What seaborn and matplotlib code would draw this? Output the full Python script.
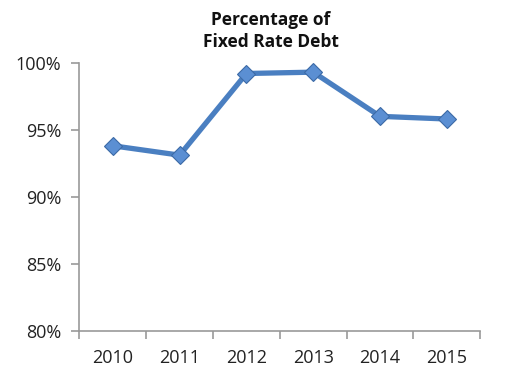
import pandas as pd
import seaborn as sns
import matplotlib.pyplot as plt
from matplotlib.ticker import FixedLocator

years = ['2010', '2011', '2012', '2013', '2014', '2015']
fixed_pct = [93.8, 93.1, 99.2, 99.3, 96.0, 95.8]
y_ticks = [80, 85, 90, 95, 100]

df = pd.DataFrame({'Year': years, 'Fixed': fixed_pct})

sns.set_style('white')
plt.rcParams['font.family'] = ['Open Sans', 'DejaVu Sans']

fig = plt.figure(figsize=(5.26, 3.76), dpi=100)
ax = fig.add_axes([0.151, 0.121, 0.762, 0.712])

sns.pointplot(data=df, x='Year', y='Fixed', ax=ax, color='#4a7fc1',
              markers='D', linestyles='-', errorbar=None,
              linewidth=3.8, markersize=9,
              markeredgecolor='#3c6aa6', markeredgewidth=0.8)
for ln in ax.lines:
    ln.set_markerfacecolor('#5b8fd3')

ax.set_xlim(-0.5, len(years) - 0.5)
ax.set_ylim(80, 100)
ax.set_yticks(y_ticks)
ax.set_yticklabels([f'{v}%' for v in y_ticks])

# ticks on the category boundaries, labels in the middle
ax.xaxis.set_minor_locator(FixedLocator([i - 0.5 for i in range(len(years) + 1)]))
ax.tick_params(axis='x', which='major', bottom=True, length=0, pad=13,
               labelsize=13, colors='#222222')
ax.tick_params(axis='x', which='minor', bottom=True, length=6, width=1.2,
               color='#999999', direction='out')
ax.tick_params(axis='y', left=True, length=6, width=1.2, color='#999999',
               direction='out', labelsize=13, labelcolor='#222222', pad=7)

for s in ['top', 'right']:
    ax.spines[s].set_visible(False)
for s in ['left', 'bottom']:
    ax.spines[s].set_color('#999999')
    ax.spines[s].set_linewidth(1.2)

ax.set_xlabel('')
ax.set_ylabel('')
fig.text(0.515, 0.918, 'Percentage of\nFixed Rate Debt', ha='center', va='center',
         fontsize=12.5, fontweight='bold', color='#111111', linespacing=1.25)

fig.savefig('out.png', dpi=100)
